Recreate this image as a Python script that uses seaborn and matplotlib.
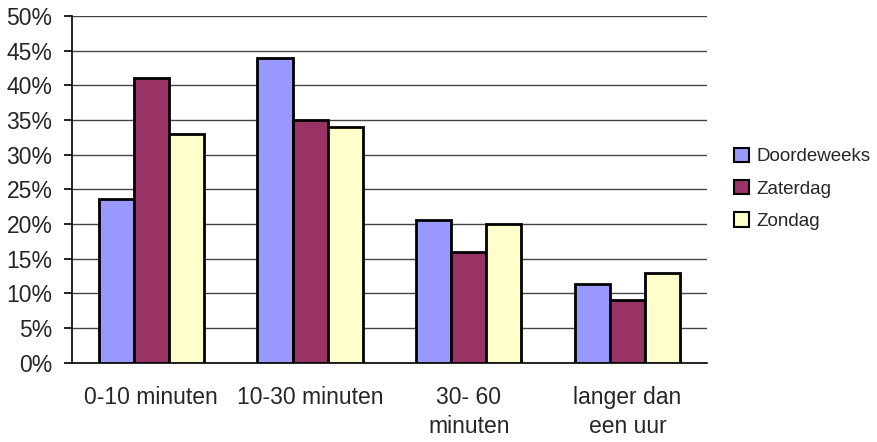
import matplotlib
matplotlib.use("Agg")
import matplotlib.pyplot as plt
import seaborn as sns
import pandas as pd
from matplotlib.ticker import PercentFormatter

# Travel time shares per day type (percent)
categories = ["0-10 minuten", "10-30 minuten", "30- 60\nminuten", "langer dan\neen uur"]
doordeweeks = [23.6, 44.0, 20.6, 11.4]
zaterdag = [41.0, 35.0, 16.0, 9.0]
zondag = [33.0, 34.0, 20.0, 13.0]
series_names = ["Doordeweeks", "Zaterdag", "Zondag"]
colors = ["#9999FF", "#993366", "#FFFFCC"]

rows = []
for name, vals in zip(series_names, [doordeweeks, zaterdag, zondag]):
    for cat, v in zip(categories, vals):
        rows.append({"categorie": cat, "dag": name, "aandeel": v})
df = pd.DataFrame(rows)

sns.set_style("white")
plt.rcParams["font.family"] = ["Liberation Sans", "DejaVu Sans"]

fig = plt.figure(figsize=(8.78, 4.42), dpi=100)
ax = fig.add_axes([0.082, 0.179, 0.723, 0.785])

sns.barplot(data=df, x="categorie", y="aandeel", hue="dag", order=categories,
            hue_order=series_names, palette=colors, width=0.663,
            edgecolor="black", linewidth=2.0, saturation=1, ax=ax, zorder=3)

ax.set_ylim(0, 50)
ax.set_xlim(-0.5, 3.5)
ax.set_yticks(range(0, 51, 5))
ax.yaxis.set_major_formatter(PercentFormatter(decimals=0))
ax.grid(axis="y", color="#444444", linewidth=1.0, zorder=0)
ax.set_axisbelow(True)

for side in ["top", "right"]:
    ax.spines[side].set_visible(False)
for side in ["left", "bottom"]:
    ax.spines[side].set_color("black")
    ax.spines[side].set_linewidth(1.2)

ax.set_xlabel("")
ax.set_ylabel("")
ax.set_xticks(range(len(categories)))
ax.set_xticklabels(categories, fontsize=16.5, linespacing=1.3)
ax.set_xticks([-0.5, 0.5, 1.5, 2.5, 3.5], minor=True)
ax.tick_params(axis="x", which="major", length=0, pad=17)
ax.tick_params(axis="x", which="minor", length=6, width=1.2, color="black", direction="out")
ax.tick_params(axis="y", which="major", length=6, width=1.2, color="black",
               direction="out", pad=8, labelsize=16.5, left=True)

leg = ax.legend(loc="center left", bbox_to_anchor=(0.828, 0.573),
                bbox_transform=fig.transFigure, frameon=False, fontsize=13.5,
                handlelength=0.8, handleheight=0.8, handletextpad=0.35,
                labelspacing=0.78, borderaxespad=0)
for h in leg.legend_handles:
    h.set_edgecolor("black")
    h.set_linewidth(1.5)

fig.savefig("out.png", dpi=100)
